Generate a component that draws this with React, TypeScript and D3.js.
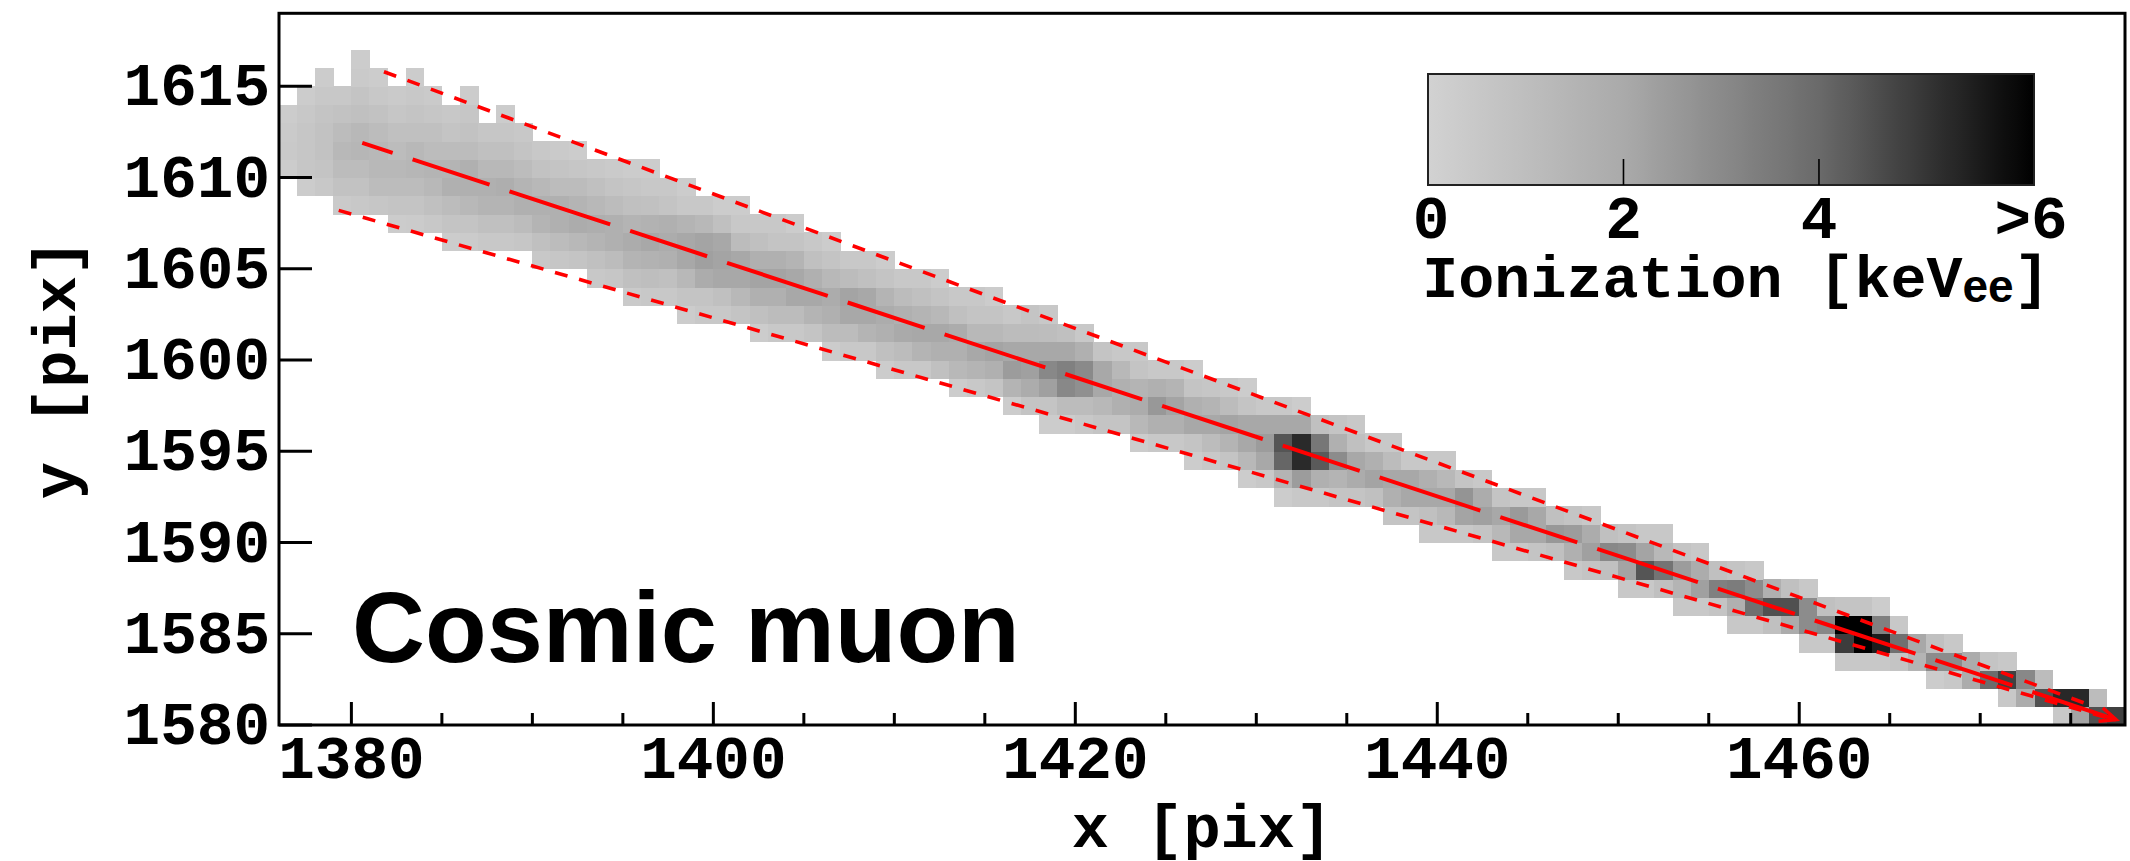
import React from "react";
import * as d3 from "d3";

// ---------- data ----------
// Each entry: [column x, lowest row y, ionization values (keV_ee) from bottom row upward]
const trackColumns: [number, number, number[]][] = [
  [1376, 1610, [0.3, 0.45, 0.4, 0.3]],
  [1377, 1609, [0.3, 0.6, 0.6, 0.6, 0.5, 0.3]],
  [1378, 1609, [0.5, 0.7, 0.8, 0.8, 0.7, 0.5, 0.3]],
  [1379, 1608, [0.4, 0.8, 1.1, 1.3, 1.1, 0.8, 0.5]],
  [1380, 1608, [0.5, 0.8, 1.1, 1.4, 1.3, 0.9, 0.7, 0.4, 0.3]],
  [1381, 1608, [0.6, 1.1, 1.3, 1.3, 1.1, 0.8, 0.5, 0.3]],
  [1382, 1607, [0.3, 0.7, 1.1, 1.3, 1.1, 0.9, 0.6, 0.4]],
  [1383, 1607, [0.35, 0.7, 1.1, 1.4, 1.3, 0.9, 0.7, 0.5, 0.3]],
  [1384, 1607, [0.5, 0.9, 1.3, 1.5, 1.1, 0.9, 0.6, 0.4]],
  [1385, 1606, [0.3, 0.7, 1.1, 1.7, 1.5, 1.1, 0.7, 0.5]],
  [1386, 1606, [0.35, 0.7, 1.3, 1.7, 1.7, 1.1, 0.8, 0.6, 0.3]],
  [1387, 1606, [0.5, 0.9, 1.5, 1.7, 1.3, 0.9, 0.6]],
  [1388, 1606, [0.5, 0.9, 1.5, 1.8, 1.3, 0.9, 0.6, 0.3]],
  [1389, 1606, [0.6, 1.1, 1.7, 1.5, 1.1, 0.7, 0.5]],
  [1390, 1605, [0.5, 0.9, 1.5, 1.7, 1.3, 0.8, 0.5]],
  [1391, 1605, [0.6, 1.1, 1.7, 1.7, 1.1, 0.7, 0.4]],
  [1392, 1605, [0.7, 1.3, 1.9, 1.5, 1.1, 0.6, 0.3]],
  [1393, 1604, [0.5, 0.9, 1.5, 1.8, 1.3, 0.9, 0.5]],
  [1394, 1604, [0.6, 1.1, 1.7, 1.7, 1.1, 0.7, 0.4]],
  [1395, 1603, [0.4, 0.9, 1.5, 1.9, 1.5, 0.9, 0.6, 0.3]],
  [1396, 1603, [0.5, 1.0, 1.6, 2.05, 1.6, 0.85, 0.5, 0.3]],
  [1397, 1603, [0.5, 0.9, 1.7, 1.9, 1.7, 0.7, 0.5]],
  [1398, 1602, [0.3, 0.7, 1.3, 2.06, 2.06, 1.5, 0.5, 0.3]],
  [1399, 1602, [0.5, 0.7, 1.9, 2.3, 2.2, 1.3, 0.5]],
  [1400, 1602, [0.5, 0.9, 2.06, 2.2, 2.06, 0.9, 0.3]],
  [1401, 1602, [0.7, 1.3, 2.06, 2.06, 1.1, 0.5, 0.3]],
  [1402, 1601, [0.3, 0.9, 1.7, 2.2, 1.7, 0.9, 0.5]],
  [1403, 1601, [0.5, 1.1, 1.7, 2.2, 1.7, 0.7, 0.5]],
  [1404, 1601, [0.5, 1.1, 2.06, 2.06, 1.5, 0.7, 0.3]],
  [1405, 1601, [0.7, 1.5, 2.06, 1.7, 0.9, 0.5]],
  [1406, 1600, [0.3, 1.1, 1.7, 1.9, 1.3, 0.7, 0.3]],
  [1407, 1600, [0.5, 1.1, 2.06, 2.2, 1.1, 0.5]],
  [1408, 1600, [0.5, 1.5, 2.06, 2.06, 0.9, 0.5]],
  [1409, 1599, [0.3, 0.9, 1.7, 1.9, 1.5, 0.7, 0.3]],
  [1410, 1599, [0.5, 1.1, 2.0, 1.7, 1.1, 0.5]],
  [1411, 1599, [0.5, 1.5, 2.06, 1.5, 0.9, 0.5]],
  [1412, 1599, [0.9, 1.7, 2.06, 1.3, 0.7, 0.3]],
  [1413, 1598, [0.3, 1.3, 1.7, 1.9, 0.9, 0.5]],
  [1414, 1598, [0.5, 1.5, 2.06, 1.3, 0.7, 0.5]],
  [1415, 1598, [0.7, 1.7, 2.2, 1.3, 0.7, 0.3]],
  [1416, 1597, [0.3, 1.5, 2.44, 2.06, 1.1, 0.5]],
  [1417, 1597, [0.7, 1.9, 2.3, 2.06, 1.1, 0.7]],
  [1418, 1596, [0.3, 0.7, 2.3, 3.06, 2.06, 1.05, 0.5]],
  [1419, 1596, [0.3, 1.1, 3.06, 3.3, 2.06, 0.9]],
  [1420, 1596, [0.5, 1.1, 2.8, 3.0, 1.7, 0.5]],
  [1421, 1596, [0.7, 1.3, 2.06, 2.06, 0.7]],
  [1422, 1596, [0.7, 1.7, 1.7, 1.3, 0.5]],
  [1423, 1595, [0.3, 1.3, 1.9, 1.5, 0.7, 0.5]],
  [1424, 1595, [0.5, 1.7, 2.56, 1.7, 0.5]],
  [1425, 1595, [0.5, 1.7, 2.2, 1.5, 0.5]],
  [1426, 1594, [0.3, 0.7, 2.06, 1.7, 0.7, 0.3]],
  [1427, 1594, [0.5, 1.1, 2.06, 1.5, 0.6]],
  [1428, 1594, [0.7, 1.5, 2.2, 1.1, 0.5]],
  [1429, 1593, [0.3, 1.3, 2.06, 2.06, 0.7, 0.3]],
  [1430, 1593, [0.5, 2.06, 2.44, 2.06, 0.5]],
  [1431, 1592, [0.3, 1.5, 4.08, 4.44, 2.06, 0.5]],
  [1432, 1592, [0.5, 2.44, 5.33, 5.33, 2.06, 0.3]],
  [1433, 1592, [0.5, 1.7, 4.33, 3.6, 0.9]],
  [1434, 1592, [0.7, 1.5, 2.94, 1.7, 0.7]],
  [1435, 1592, [0.7, 1.9, 2.06, 0.9, 0.5]],
  [1436, 1592, [0.9, 2.2, 1.7, 0.5]],
  [1437, 1591, [0.7, 1.7, 2.06, 1.1, 0.5]],
  [1438, 1591, [0.7, 2.06, 2.06, 0.5]],
  [1439, 1590, [0.5, 0.9, 2.06, 1.7, 0.5]],
  [1440, 1590, [0.5, 1.3, 2.06, 1.3, 0.5]],
  [1441, 1590, [0.5, 2.2, 2.7, 0.7]],
  [1442, 1590, [0.7, 2.3, 1.9, 0.5]],
  [1443, 1589, [0.5, 1.3, 2.06, 0.7]],
  [1444, 1589, [0.5, 2.06, 2.5, 0.5]],
  [1445, 1589, [0.7, 2.06, 2.06, 0.5]],
  [1446, 1589, [0.9, 2.56, 0.9]],
  [1447, 1588, [0.5, 1.7, 2.44, 0.7]],
  [1448, 1588, [0.7, 2.3, 1.9, 0.5]],
  [1449, 1588, [0.9, 3.06, 0.9]],
  [1450, 1587, [0.5, 2.2, 2.94, 0.7]],
  [1451, 1587, [0.5, 4.44, 2.2, 0.5]],
  [1452, 1587, [0.9, 3.7, 1.3, 0.5]],
  [1453, 1586, [0.5, 1.5, 2.44, 0.7]],
  [1454, 1586, [0.5, 2.3, 1.9, 0.5]],
  [1455, 1586, [0.7, 3.3, 0.9]],
  [1456, 1585, [0.5, 1.7, 3.44, 0.7]],
  [1457, 1585, [0.5, 3.8, 2.94, 0.5]],
  [1458, 1585, [0.9, 4.54, 1.7]],
  [1459, 1585, [1.9, 4.54, 0.9]],
  [1460, 1584, [0.5, 2.94, 2.94, 0.5]],
  [1461, 1584, [0.5, 3.06, 0.9]],
  [1462, 1583, [0.5, 4.95, 6.5, 0.7]],
  [1463, 1583, [0.5, 6.5, 6.5, 0.7]],
  [1464, 1583, [0.5, 5.62, 3.3, 0.3]],
  [1465, 1583, [0.7, 3.8, 0.5]],
  [1466, 1583, [1.5, 2.06]],
  [1467, 1582, [0.3, 2.94, 0.9]],
  [1468, 1582, [0.5, 2.94, 0.5]],
  [1469, 1582, [1.9, 1.9]],
  [1470, 1582, [3.94, 0.7]],
  [1471, 1581, [0.5, 4.87, 0.5]],
  [1472, 1581, [1.9, 3.06]],
  [1473, 1581, [4.54, 1.1]],
  [1474, 1580, [0.5, 5.37]],
  [1475, 1580, [2.2, 5.37]],
  [1476, 1580, [4.54, 1.1]],
  [1477, 1580, [4.87]],
];

const xDomain = [1376, 1478];
const yDomain = [1580, 1619];
const xMajorTicks = [1380, 1400, 1420, 1440, 1460];
const xMinorTicks = [1385, 1390, 1395, 1405, 1410, 1415, 1425, 1430, 1435, 1445, 1450, 1455, 1465, 1470, 1475];
const yTicks = [1580, 1585, 1590, 1595, 1600, 1605, 1610, 1615];

// fitted track lines (x, y in pixel units)
const centerLine: [number, number][] = [[1380.6, 1611.9], [1477.5, 1580.3]];
const upperLine: [number, number][] = [[1381.8, 1615.8], [1476.3, 1581.0]];
const lowerLine: [number, number][] = [[1379.3, 1608.2], [1477.0, 1580.4]];

// colour bar
const colorDomain = [0, 2, 4, 6.2];
const colorGrays = [210, 170, 106, 0];
const cbarRange = [0, 6.2];
const cbarTicks = [2, 4];
const cbarLabelValues = [0, 2, 4, 6.2];
const cbarLabels = ["0", "2", "4", ">6"];

// ---------- layout ----------
const W = 2130;
const H = 861;
const M = { left: 279, right: 2125, top: 13.3, bottom: 725 };
const MONO = "'Liberation Mono', 'Courier New', 'DejaVu Sans Mono', monospace";
const SANS = "'Liberation Sans', Arial, Helvetica, sans-serif";

export default function App() {
  const x = d3.scaleLinear().domain(xDomain).range([M.left, M.right]);
  const y = d3.scaleLinear().domain(yDomain).range([M.bottom, M.top]);
  const grayScale = d3.scaleLinear().domain(colorDomain).range(colorGrays).clamp(true);
  const color = (v: number) => {
    const g = Math.round(grayScale(v));
    return `rgb(${g},${g},${g})`;
  };
  const cb = d3.scaleLinear().domain(cbarRange).range([1428, 2034]);
  const cbTop = 74;
  const cbBottom = 185;

  const cells: { key: string; x: number; y: number; w: number; h: number; fill: string }[] = [];
  trackColumns.forEach(([cx, by, vals]) => {
    vals.forEach((v, i) => {
      const row = by + i;
      const x0 = x(cx);
      const x1 = x(cx + 1);
      const y0 = y(row + 1);
      const y1 = y(row);
      cells.push({ key: `${cx}-${row}`, x: x0, y: y0, w: x1 - x0, h: y1 - y0, fill: color(v) });
    });
  });

  const line = d3
    .line<[number, number]>()
    .x((d) => x(d[0]))
    .y((d) => y(d[1]));

  const gradStops = d3.range(0, 6.2001, 0.1);

  return (
    <svg
      width={W}
      height={H}
      viewBox={`0 0 ${W} ${H}`}
      style={{ position: "absolute", left: 0, top: 0, display: "block", background: "#fff" }}
    >
      <defs>
        <clipPath id="plotClip">
          <rect x={M.left} y={M.top} width={M.right - M.left} height={M.bottom - M.top} />
        </clipPath>
        <linearGradient id="cbarGrad" x1="0" x2="1" y1="0" y2="0">
          {gradStops.map((v) => (
            <stop key={v} offset={`${(v / 6.2) * 100}%`} stopColor={color(v)} />
          ))}
        </linearGradient>
        <marker
          id="arrowHead"
          markerUnits="userSpaceOnUse"
          markerWidth={30}
          markerHeight={30}
          refX={17}
          refY={8}
          orient="auto"
        >
          <path d="M1,1 L17,8 L1,15" fill="none" stroke="#ff0000" strokeWidth={3.5} />
        </marker>
      </defs>

      <rect x={0} y={0} width={W} height={H} fill="#fff" />

      {/* pixel hits */}
      <g clipPath="url(#plotClip)" shapeRendering="crispEdges">
        {cells.map((c) => (
          <rect key={c.key} x={c.x} y={c.y} width={c.w + 0.5} height={c.h + 0.5} fill={c.fill} />
        ))}
      </g>

      {/* fitted track lines */}
      <g clipPath="url(#plotClip)" fill="none" stroke="#ff0000">
        <path d={line(upperLine) || ""} strokeWidth={3.6} strokeDasharray="13 12" />
        <path d={line(lowerLine) || ""} strokeWidth={3.6} strokeDasharray="13 12" />
        <path
          d={line(centerLine) || ""}
          strokeWidth={4}
          strokeDasharray="106 21 81 21"
          strokeDashoffset={74}
          markerEnd="url(#arrowHead)"
        />
      </g>

      {/* axes frame */}
      <rect
        x={M.left}
        y={M.top}
        width={M.right - M.left}
        height={M.bottom - M.top}
        fill="none"
        stroke="#000"
        strokeWidth={3}
      />

      {/* ticks */}
      <g stroke="#000" strokeWidth={3}>
        {xMajorTicks.map((t) => (
          <line key={`xM${t}`} x1={x(t)} x2={x(t)} y1={M.bottom} y2={M.bottom - 23} />
        ))}
        {xMinorTicks.map((t) => (
          <line key={`xm${t}`} x1={x(t)} x2={x(t)} y1={M.bottom} y2={M.bottom - 12} />
        ))}
        {yTicks.map((t) => (
          <line key={`y${t}`} x1={M.left} x2={M.left + 33} y1={y(t)} y2={y(t)} />
        ))}
      </g>

      {/* tick labels */}
      <g fontFamily={MONO} fontWeight="bold" fontSize={61} fill="#000">
        {xMajorTicks.map((t) => (
          <text key={`xl${t}`} x={x(t)} y={778} textAnchor="middle">
            {t}
          </text>
        ))}
        {yTicks.map((t) => (
          <text key={`yl${t}`} x={270} y={y(t) + 19} textAnchor="end">
            {t}
          </text>
        ))}
      </g>

      {/* axis titles */}
      <g fontFamily={MONO} fontWeight="bold" fontSize={62} fill="#000">
        <text x={(M.left + M.right) / 2} y={847} textAnchor="middle">
          x [pix]
        </text>
        <text transform={`translate(75, ${(M.top + M.bottom) / 2}) rotate(-90)`} textAnchor="middle">
          y [pix]
        </text>
      </g>

      {/* label */}
      <text x={352} y={662} fontFamily={SANS} fontWeight="bold" fontSize={101} fill="#000">
        Cosmic muon
      </text>

      {/* colour bar */}
      <rect
        x={cb(0)}
        y={cbTop}
        width={cb(6.2) - cb(0)}
        height={cbBottom - cbTop}
        fill="url(#cbarGrad)"
        stroke="#222"
        strokeWidth={2}
      />
      {cbarTicks.map((t) => (
        <line key={`cbt${t}`} x1={cb(t)} x2={cb(t)} y1={cbBottom} y2={cbBottom - 26} stroke="#000" strokeWidth={1.6} />
      ))}
      <g fontFamily={MONO} fontWeight="bold" fontSize={61} fill="#000">
        {cbarLabelValues.map((v, i) => (
          <text key={`cbl${i}`} x={cb(v) + (i === 0 ? 3 : i === 3 ? -3 : 0)} y={238} textAnchor="middle">
            {cbarLabels[i]}
          </text>
        ))}
      </g>
      <text x={1736} y={297} textAnchor="middle" fontFamily={MONO} fontWeight="bold" fontSize={60} fill="#000">
        Ionization [keV
        <tspan fontFamily={SANS} fontSize={46} dy={5}>
          ee
        </tspan>
        <tspan dy={-5}>]</tspan>
      </text>
    </svg>
  );
}
